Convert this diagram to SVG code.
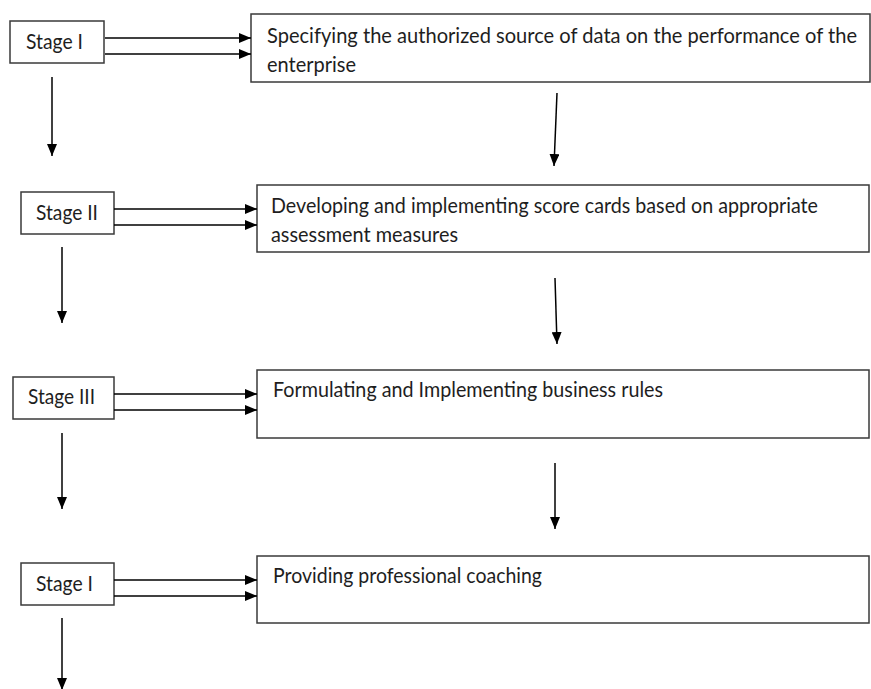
<svg xmlns="http://www.w3.org/2000/svg" width="871" height="689" viewBox="0 0 871 689">
<defs>
<style>
.box{fill:#fff;stroke:#3a3a3a;stroke-width:1.5}
.t{font-family:Lato,"Open Sans","Liberation Sans",sans-serif;font-size:20.5px;fill:#1e1e1e}
.c line{stroke:#000;stroke-width:1.5;marker-end:url(#ah)}
</style>
<marker id="ah" markerUnits="userSpaceOnUse" markerWidth="12" markerHeight="10" refX="12" refY="5" orient="auto">
<path d="M0,0 L12,5 L0,10 Z" fill="#000"/>
</marker>
</defs>
<rect width="871" height="689" fill="#fff"/>
<g id="stage1">
<rect class="box" x="10" y="21" width="94" height="42"/>
<text class="t" x="26" y="49" textLength="57" lengthAdjust="spacingAndGlyphs">Stage I</text>
</g>
<g id="step1">
<rect class="box" x="251" y="14" width="619" height="68"/>
<text class="t" x="267" y="43" textLength="590" lengthAdjust="spacingAndGlyphs">Specifying the authorized source of data on the performance of the</text>
<text class="t" x="267" y="72" textLength="89" lengthAdjust="spacingAndGlyphs">enterprise</text>
</g>
<g id="stage2">
<rect class="box" x="21" y="192" width="93" height="42"/>
<text class="t" x="36" y="220" textLength="62" lengthAdjust="spacingAndGlyphs">Stage II</text>
</g>
<g id="step2">
<rect class="box" x="257" y="185" width="612" height="67"/>
<text class="t" x="271" y="213" textLength="547" lengthAdjust="spacingAndGlyphs">Developing and implementing score cards based on appropriate</text>
<text class="t" x="271" y="242" textLength="187" lengthAdjust="spacingAndGlyphs">assessment measures</text>
</g>
<g id="stage3">
<rect class="box" x="13" y="377" width="101" height="42"/>
<text class="t" x="28" y="404" textLength="67" lengthAdjust="spacingAndGlyphs">Stage III</text>
</g>
<g id="step3">
<rect class="box" x="257" y="370" width="612" height="68"/>
<text class="t" x="273" y="397" textLength="390" lengthAdjust="spacingAndGlyphs">Formulating and Implementing business rules</text>
</g>
<g id="stage4">
<rect class="box" x="21" y="563" width="93" height="42"/>
<text class="t" x="36" y="591" textLength="57" lengthAdjust="spacingAndGlyphs">Stage I</text>
</g>
<g id="step4">
<rect class="box" x="257" y="556" width="612" height="67"/>
<text class="t" x="273" y="583" textLength="269" lengthAdjust="spacingAndGlyphs">Providing professional coaching</text>
</g>
<g id="connectors" class="c">
<line x1="105" y1="38" x2="251" y2="38"/>
<line x1="105" y1="54" x2="251" y2="54"/>
<line x1="114" y1="209" x2="257" y2="209"/>
<line x1="114" y1="225" x2="257" y2="225"/>
<line x1="114" y1="394" x2="257" y2="394"/>
<line x1="114" y1="410" x2="257" y2="410"/>
<line x1="114" y1="580" x2="257" y2="580"/>
<line x1="114" y1="596" x2="257" y2="596"/>
<line x1="52" y1="77" x2="52" y2="156"/>
<line x1="62" y1="247" x2="62" y2="323"/>
<line x1="62" y1="433" x2="62" y2="509"/>
<line x1="62" y1="618" x2="62" y2="690"/>
<line x1="557" y1="93" x2="554" y2="166"/>
<line x1="555" y1="278" x2="557" y2="344"/>
<line x1="555" y1="463" x2="555" y2="529"/>
</g>
</svg>
